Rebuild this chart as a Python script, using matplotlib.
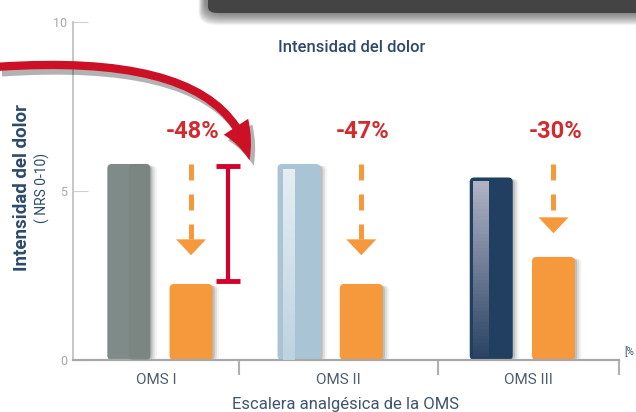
import numpy as np
import matplotlib
matplotlib.use("Agg")
import matplotlib.pyplot as plt
from matplotlib.patches import FancyBboxPatch, FancyArrowPatch
import matplotlib.patheffects as pe

plt.rcParams['font.family'] = ['Roboto', 'DejaVu Sans']

# data
categories = ["OMS I", "OMS II", "OMS III"]
before = [5.8, 5.8, 5.4]        # intensidad del dolor antes
after = [2.25, 2.25, 3.05]      # despues
changes = ["-48%", "-47%", "-30%"]

title = "Intensidad del dolor"
ylabel = "Intensidad del dolor"
ylabel2 = "( NRS 0-10)"
xlabel = "Escalera analgésica de la OMS"

# layout
group_x = np.array([0.0, 0.93, 1.98])
bounds = [-0.475, 0.43, 1.52, 2.508]
off = 0.17
bw = 0.235
before_cols = ["#7f8b88", "#a9c5d5", "#213f60"]
orange = "#f5993c"
blue_txt = "#2e4a6b"
red = "#d42a2e"

fig = plt.figure(figsize=(6.36, 4.12), dpi=100)
ax = fig.add_axes([73/636, 1-360/412, 546/636, 338/412])
ax.set_xlim(bounds[0], bounds[-1])
ax.set_ylim(0, 10)

# px per data unit (for rounding corners)
asp = (546/(bounds[-1]-bounds[0])) / 33.8

b1 = ax.bar(group_x - off, before, width=bw, color=before_cols)
b2 = ax.bar(group_x + off, after, width=bw, color=orange)

def fancy(rect, col):
    x, y = rect.get_x(), rect.get_y()
    w, h = rect.get_width(), rect.get_height()
    rect.set_visible(False)
    # soft shadow on right
    for k, a in enumerate([0.22, 0.14, 0.07]):
        sh = FancyBboxPatch((x + w*0.1, y), w*0.95 + k*0.012, h - 0.05,
                            boxstyle="round,pad=0,rounding_size=0.025",
                            mutation_aspect=asp, fc="#555555", ec="none",
                            alpha=a, zorder=1)
        ax.add_patch(sh)
    p = FancyBboxPatch((x, y), w, h, boxstyle="round,pad=0,rounding_size=0.025",
                       mutation_aspect=asp, fc=col, ec="none", zorder=2)
    ax.add_patch(p)
    return p

for i, r in enumerate(b1):
    p = fancy(r, before_cols[i])
    x, w, h = r.get_x(), r.get_width(), r.get_height()
    if i == 1:
        grad = np.linspace(0, 1, 50)[:, None]
        c0 = np.array([0.90, 0.93, 0.95]); c1 = np.array([0.74, 0.83, 0.88])
        img = c0 + (c1 - c0) * grad[..., None]
        img = np.repeat(img, 2, axis=1)
        im = ax.imshow(img, extent=(x + w*0.12, x + w*0.38, 0, h - 0.15), aspect='auto',
                       zorder=3, origin='upper')
        im.set_clip_path(p)
    if i == 2:
        grad = np.linspace(0, 1, 50)[:, None]
        c0 = np.array([0.69, 0.70, 0.77]); c1 = np.array([0.17, 0.27, 0.40])
        img = c0 + (c1 - c0) * grad[..., None]
        img = np.repeat(img, 2, axis=1)
        im = ax.imshow(img, extent=(x + w*0.07, x + w*0.42, 0.1, h - 0.12), aspect='auto',
                       zorder=3, origin='upper')
        im.set_clip_path(p)
    if i == 0:
        ax.add_patch(FancyBboxPatch((x + w*0.5, 0), w*0.5, h, boxstyle="round,pad=0,rounding_size=0.025",
                                    mutation_aspect=asp, fc="#78837f", ec="none", zorder=3, alpha=0.5))
for r in b2:
    fancy(r, orange)

ax.set_xlim(bounds[0], bounds[-1])
ax.set_ylim(0, 10)

# dashed arrows + percentages
for i in range(3):
    xa = group_x[i] + off
    tip = after[i] + 0.85 if i < 2 else after[i] + 0.7
    head_h = 0.47
    ax.plot([xa, xa], [before[0], tip + head_h], color=orange,
            lw=3.6, dashes=(3.2, 2.8), solid_capstyle='butt', dash_capstyle='butt', zorder=4)
    ax.fill([xa - 0.082, xa + 0.082, xa], [tip + head_h, tip + head_h, tip],
            color=orange, lw=0, zorder=4)
    ax.text(xa + 0.01, 6.75, changes[i], color=red, fontsize=17, fontweight='bold',
            ha='center', va='center', zorder=5)

# red I-beam between before/after of OMS I
xe = group_x[0] + 0.37
ax.errorbar([xe], [(before[0] - 0.06 + after[0] + 0.1) / 2],
            yerr=[(before[0] - 0.06 - after[0] - 0.1) / 2], fmt='none',
            ecolor="#d4002b", elinewidth=3, capsize=8.6, capthick=3.5, zorder=5)

# axes styling
for s in ['top', 'right']:
    ax.spines[s].set_visible(False)
ax.spines['left'].set_color("#bdbdbd")
ax.spines['left'].set_linewidth(1.2)
ax.spines['bottom'].set_color("#a8a8a8")
ax.spines['bottom'].set_linewidth(1.6)
ax.set_yticks([0, 5, 10])
ax.tick_params(axis='y', direction='in', length=11, width=0.8, color="#cfcfcf",
               labelcolor="#a8a8a8", labelsize=9, pad=4)
ax.set_xticks((np.array(bounds[:-1]) + np.array(bounds[1:])) / 2)
ax.set_xticklabels(categories)
ax.tick_params(axis='x', length=0, labelsize=11, labelcolor="#4f5f70", pad=9)
ax.set_xticks(bounds[1:], minor=True)
ax.tick_params(axis='x', which='minor', direction='out', length=11, width=1.5, color="#b0b0b0")
ax.patch.set_alpha(0)

ax.text(0.51, 0.925, title, transform=ax.transAxes, color=blue_txt, fontsize=12,
        fontweight='medium', ha='center', va='center')
fig.text(22/636, 1-188/412, ylabel, rotation=90, color=blue_txt, fontsize=13.5,
         fontweight='bold', ha='center', va='center')
fig.text(42/636, 1-188/412, ylabel2, rotation=90, color=blue_txt, fontsize=10,
         ha='center', va='center')
fig.text(345/636, 1-405/412, xlabel, color="#3e5470", fontsize=12, ha='center', va='center')
fig.text(624/636, 1-352/412, "[%", color=blue_txt, fontsize=7, ha='left', va='center')

# dark banner at top right with soft shadow
for k in range(12):
    d = 12 - k
    fig.patches.append(FancyBboxPatch(((206 - d*0.6)/636, (412 - 13 - d)/412), (470 + d)/636, 60/412,
                                      boxstyle="round,pad=0,rounding_size=0.03",
                                      transform=fig.transFigure, fc="#3f3f3f", ec="none", alpha=0.07))
fig.patches.append(FancyBboxPatch((208/636, (412 - 13)/412), 440/636, 40/412,
                                  boxstyle="round,pad=0,rounding_size=0.015",
                                  transform=fig.transFigure, fc="#444444", ec="none"))

# big curved red arrow
arr = FancyArrowPatch((-5/636, 1-67/412), (250/636, 1-163/412), transform=fig.transFigure,
                      connectionstyle="angle3,angleA=4,angleB=100",
                      arrowstyle="simple,head_length=1.3,head_width=1.05,tail_width=0.3",
                      mutation_scale=20, fc="#cc1126", ec="none", zorder=10)
arr.set_path_effects([pe.SimplePatchShadow(offset=(3, -4), shadow_rgbFace='black', alpha=0.3),
                      pe.Normal()])
fig.patches.append(arr)

fig.savefig("out.png", dpi=100)
